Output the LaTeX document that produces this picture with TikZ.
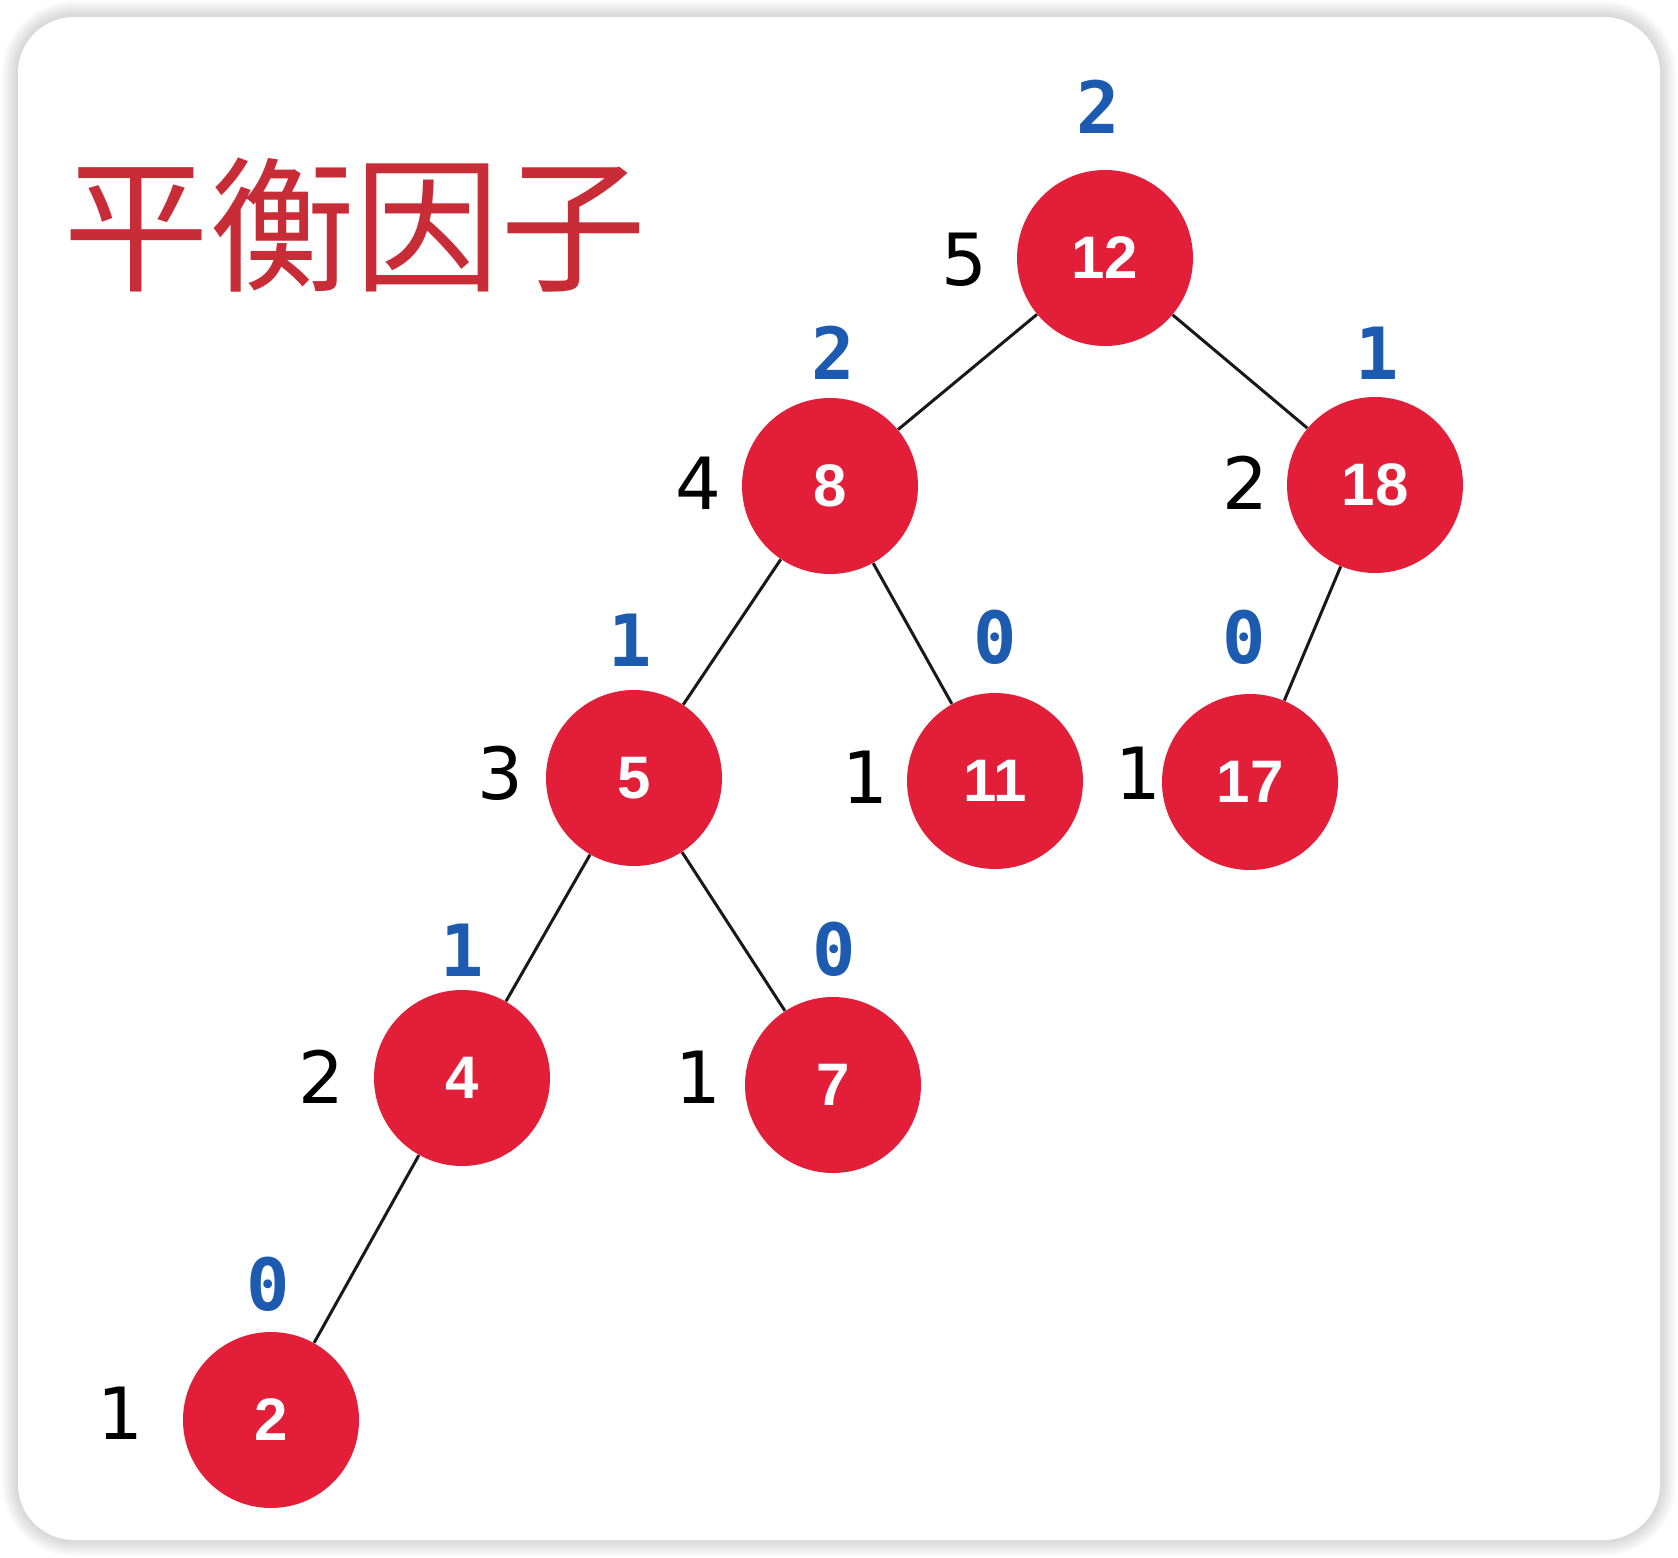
\documentclass[tikz,border=0pt]{standalone}
\usepackage{fontspec}
\usepackage{xcolor}
\usepackage{tikz}
\newfontfamily\cjkfont{Noto Sans CJK SC}
\newfontfamily\hgtfont{DejaVu Sans}
\newfontfamily\balfont{DejaVu Sans Mono}
\newfontfamily\keyfont{Liberation Sans}[BoldFont={Liberation Sans Bold}]
\definecolor{avlred}{RGB}{226,30,56}
\definecolor{titlered}{RGB}{200,44,54}
\definecolor{balblue}{RGB}{28,91,176}
\tikzset{avl/.style={circle,fill=avlred,inner sep=0pt,minimum size=88pt,
    text=white,font=\keyfont\bfseries\fontsize{30}{30}\selectfont},
  hgt/.style={anchor=east,inner sep=0pt,font=\hgtfont\fontsize{36}{36}\selectfont},
  bal/.style={anchor=south,inner sep=0pt,text=balblue,
    font=\balfont\bfseries\fontsize{36}{36}\selectfont},
  link/.style={line width=1.5pt,draw=black!90}}

\begin{document}
\begin{tikzpicture}[x=0.5pt,y=-0.5pt]
    \useasboundingbox (0,0) rectangle (1678,1558);
    % Card with soft shadow
    \foreach \s in {2,4,...,16}
        \fill[black,opacity=0.018,rounded corners=28+\s*0.5] (18-\s,17-\s) rectangle (1660+\s,1540+\s);
    \fill[white,rounded corners=28] (18,17) rectangle (1660,1540);

    % Title
    \node[text=titlered,font=\cjkfont\fontsize{73}{73}\selectfont,inner sep=0pt] (title) at (355,225) {平衡因子};

    % Tree
    \node[avl] (n12) at (1105,258) {12};
    \node[avl] (n8)  at (830,486)  {8};
    \node[avl] (n18) at (1375,485) {18};
    \node[avl] (n5)  at (634,778)  {5};
    \node[avl] (n11) at (995,781)  {11};
    \node[avl] (n17) at (1250,782) {17};
    \node[avl] (n4)  at (462,1078) {4};
    \node[avl] (n7)  at (833,1085) {7};
    \node[avl] (n2)  at (271,1420) {2};

    \draw[link] (n12) -- (n8);
    \draw[link] (n12) -- (n18);
    \draw[link] (n8) -- (n5);
    \draw[link] (n8) -- (n11);
    \draw[link] (n18) -- (n17);
    \draw[link] (n5) -- (n4);
    \draw[link] (n5) -- (n7);
    \draw[link] (n4) -- (n2);

    % Heights
    \foreach \k/\v/\x/\y in {12/5/988/260, 8/4/722/483, 18/2/1269/483, 5/3/524/773,
        11/1/889/777, 17/1/1162/773, 4/2/345/1077, 7/1/722/1077, 2/1/144/1413}
        \node[hgt] (h\k) at (\x,\y) {\v};

    % Balance factors
    \foreach \k/\v/\x/\y in {12/2/1098/134, 8/2/833/380, 18/1/1377/380, 5/1/630/667,
        11/0/995/665, 17/0/1244/665, 4/1/462/977, 7/0/834/977, 2/0/268/1312}
        \node[bal] (b\k) at (\x,\y) {\v};
\end{tikzpicture}
\end{document}
